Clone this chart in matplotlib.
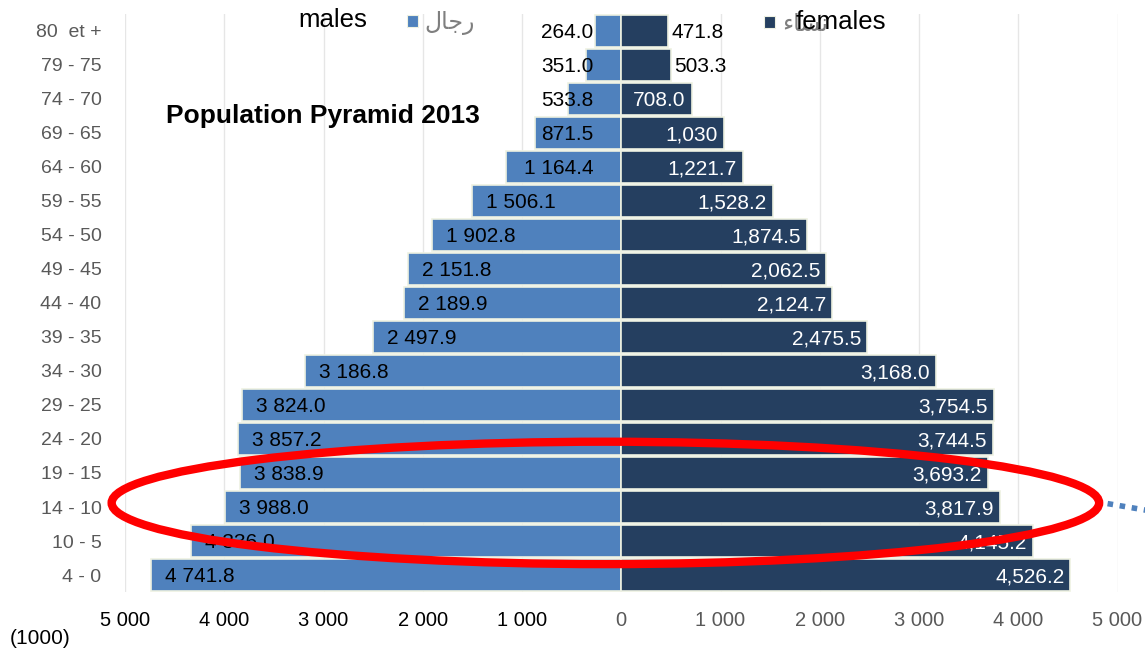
import numpy as np
import matplotlib.pyplot as plt
from matplotlib.patches import Ellipse, Rectangle

plt.rcParams['font.family'] = ['Liberation Sans', 'DejaVu Sans']

ages = ["80  et +", "79 - 75", "74 - 70", "69 - 65", "64 - 60", "59 - 55", "54 - 50",
        "49 - 45", "44 - 40", "39 - 35", "34 - 30", "29 - 25", "24 - 20", "19 - 15",
        "14 - 10", "10 - 5", "4 - 0"]
males = [264.0, 351.0, 533.8, 871.5, 1164.4, 1506.1, 1902.8, 2151.8, 2189.9, 2497.9,
         3186.8, 3824.0, 3857.2, 3838.9, 3988.0, 4336.0, 4741.8]
females = [471.8, 503.3, 708.0, 1030, 1221.7, 1528.2, 1874.5, 2062.5, 2124.7, 2475.5,
           3168.0, 3754.5, 3744.5, 3693.2, 3817.9, 4145.2, 4526.2]
female_labels = ["471.8", "503.3", "708.0", "1,030", "1,221.7", "1,528.2", "1,874.5",
                 "2,062.5", "2,124.7", "2,475.5", "3,168.0", "3,754.5", "3,744.5",
                 "3,693.2", "3,817.9", "4,145.2", "4,526.2"]
xticks = [-5000, -4000, -3000, -2000, -1000, 0, 1000, 2000, 3000, 4000, 5000]

male_c = "#4F81BD"
female_c = "#253F60"

fig = plt.figure(figsize=(11.45, 6.54), dpi=100)
ax = fig.add_axes([0.1092, 0.0948, 0.8668, 0.8838])

y = np.arange(len(ages))[::-1]
m = np.array(males)
f = np.array(females)

ax.barh(y, -m, height=0.96, color=male_c, edgecolor="#EEF1E2", linewidth=1.2, zorder=2)
ax.barh(y, f, height=0.96, color=female_c, edgecolor="#EEF1E2", linewidth=1.2, zorder=2)

lab_fs = 15
for yi, v in zip(y, m):
    txt = f"{v:,.1f}".replace(",", " ")
    if v > 1300:
        ax.text(-v + 140, yi - 0.05, txt, ha="left", va="center", fontsize=lab_fs,
                color="black", zorder=3)
    else:
        ax.text(-280, yi - 0.05, txt, ha="right", va="center", fontsize=lab_fs,
                color="black", zorder=3)

for yi, v, txt in zip(y, f, female_labels):
    if v > 600:
        ax.text(v - 60, yi - 0.05, txt, ha="right", va="center", fontsize=lab_fs,
                color="white", zorder=3)
    else:
        ax.text(v + 30, yi - 0.05, txt, ha="left", va="center", fontsize=lab_fs,
                color="black", zorder=3)

ax.set_xlim(-5000, 5000)
ax.set_ylim(-0.5, len(ages) - 0.5)
ax.set_yticks(y)
ax.set_yticklabels(ages, fontsize=14, color="#595959")
ax.set_xticks(xticks)
ax.set_xticklabels([f"{abs(t):,}".replace(",", " ") for t in xticks], fontsize=14.5)
for lab, t in zip(ax.get_xticklabels(), xticks):
    lab.set_color("black" if t < 0 else "#595959")
ax.tick_params(axis="both", length=0)
ax.tick_params(axis="y", pad=17)
ax.tick_params(axis="x", pad=14)
for s in ax.spines.values():
    s.set_visible(False)
ax.grid(axis="x", color="#E6E6E6", linewidth=1, zorder=0)
ax.set_axisbelow(True)

# title
ax.text(-4590, 13.5, "Population Pyramid 2013", fontsize=19, fontweight="bold",
        ha="left", va="center", color="black")

# highlight ellipse and dotted pointer
ax.add_patch(Ellipse((-160, 2.12), 9950, 3.6, fill=False, edgecolor="#FF0000",
                     linewidth=6, zorder=5, clip_on=False))
ax.plot([4900, 5300], [2.1, 1.9], linestyle=(0, (1, 1.2)), color=male_c, linewidth=4,
        zorder=5, clip_on=False)

# legend (manual)
fig.text(298 / 1145, 1 - 20 / 654, "males", fontsize=18.5, ha="left", va="center")
fig.patches.append(Rectangle((407 / 1145, 1 - 27 / 654), 11 / 1145, 12 / 654,
                             transform=fig.transFigure, facecolor=male_c,
                             edgecolor="#EEF1E2", linewidth=0.8))
fig.text(424 / 1145, 1 - 23 / 654, "\uFEDD\uFE8E\uFE9F\uFEAD", fontsize=17, ha="left",
         va="center", color="#7F7F7F", family="DejaVu Sans")
fig.patches.append(Rectangle((764 / 1145, 1 - 28 / 654), 11 / 1145, 12 / 654,
                             transform=fig.transFigure, facecolor=female_c,
                             edgecolor="#EEF1E2", linewidth=0.8))
fig.text(782 / 1145, 1 - 24 / 654, "\uFE80\uFE8E\uFEB4\uFEE7", fontsize=17, ha="left",
         va="center", color="#7F7F7F", family="DejaVu Sans")
fig.text(796 / 1145, 1 - 22 / 654, "females", fontsize=18.5, ha="left", va="center")

fig.text(10 / 1145, 1 - 638 / 654, "(1000)", fontsize=15, ha="left", va="center")

fig.savefig("out.png", dpi=100)
